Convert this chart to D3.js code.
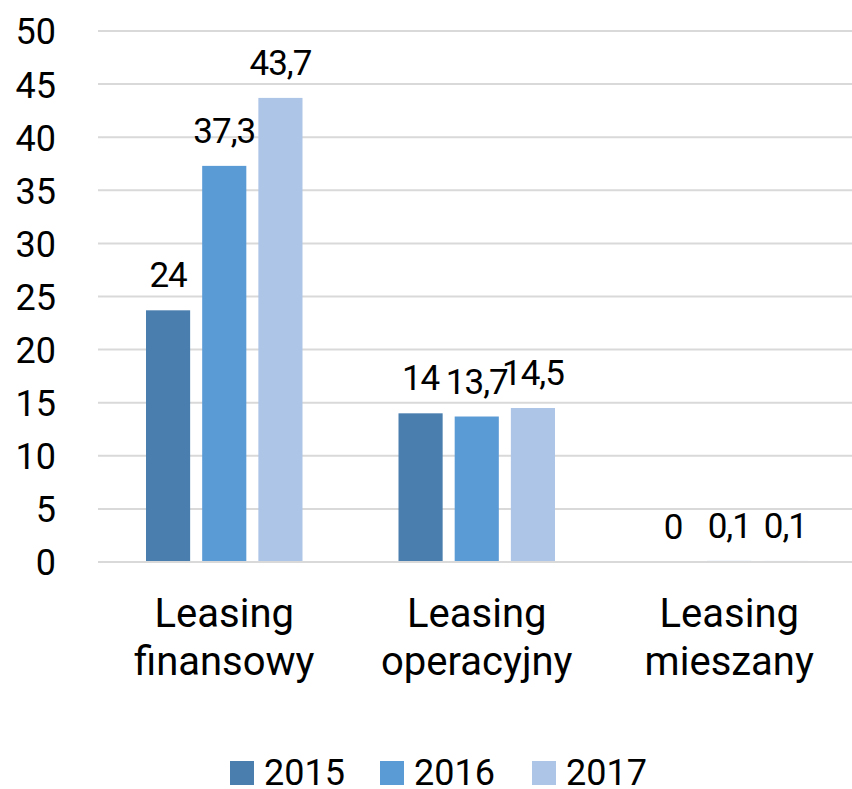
<!DOCTYPE html>
<html>
<head>
<meta charset="utf-8">
<script src="https://cdn.jsdelivr.net/npm/d3@7"></script>
<style>
  body { margin: 0; background: #fff; }
  text { font-family: Roboto, "Noto Sans", sans-serif; fill: #000; }
</style>
</head>
<body>
<div id="chart"></div>
<script>
// data
var categories = [['Leasing', 'finansowy'], ['Leasing', 'operacyjny'], ['Leasing', 'mieszany']];
var years = ['2015', '2016', '2017'];
var values2015 = [23.7, 14, 0];
var values2016 = [37.3, 13.7, 0.1];
var values2017 = [43.7, 14.5, 0.1];
var labels2015 = ['24', '14', '0'];
var labels2016 = ['37,3', '13,7', '0,1'];
var labels2017 = ['43,7', '14,5', '0,1'];
var yTicks = [0, 5, 10, 15, 20, 25, 30, 35, 40, 45, 50];

var colors = ['#4a7eaf', '#5b9bd5', '#adc5e6'];
var seriesValues = [values2015, values2016, values2017];
var seriesLabels = [labels2015, labels2016, labels2017];

var width = 852, height = 789;
var margin = { top: 31, left: 98, right: -3.5, bottom: 227 };
var fontSize = 36;
var catFontSize = 40;

var svg = d3.select('#chart')
    .append('svg')
    .attr('width', width)
    .attr('height', height);

var x0 = d3.scaleBand()
    .domain(d3.range(categories.length))
    .range([margin.left, width - margin.right])
    .paddingInner(0)
    .paddingOuter(0);

var x1 = d3.scaleBand()
    .domain(d3.range(years.length))
    .range([48, x0.bandwidth() - 48])
    .paddingInner(12 / 56)
    .paddingOuter(0);

var y = d3.scaleLinear()
    .domain([0, 50])
    .range([height - margin.bottom, margin.top]);

// gridlines (zero line is drawn later, over the bars)
svg.append('g')
    .selectAll('line')
    .data(yTicks.filter(function(d) { return d > 0; }))
    .enter()
    .append('line')
    .attr('x1', margin.left)
    .attr('x2', width)
    .attr('y1', function(d) { return y(d); })
    .attr('y2', function(d) { return y(d); })
    .attr('stroke', '#d9d9d9')
    .attr('stroke-width', 2);

// y axis labels
var yAxis = d3.axisLeft(y)
    .tickValues(yTicks)
    .tickSize(0)
    .tickPadding(0);

var yg = svg.append('g')
    .attr('transform', 'translate(56,0)')
    .call(yAxis);
yg.select('.domain').remove();
yg.selectAll('text')
    .attr('font-size', fontSize)
    .attr('dy', '0.36em')
    .style('font-family', 'Roboto, "Noto Sans", sans-serif')
    .attr('fill', '#000');

// bars
var groups = svg.append('g')
    .selectAll('g')
    .data(categories)
    .enter()
    .append('g')
    .attr('transform', function(d, i) { return 'translate(' + x0(i) + ',0)'; });

groups.each(function(cat, ci) {
    var g = d3.select(this);
    years.forEach(function(yr, si) {
        var v = seriesValues[si][ci];
        g.append('rect')
            .attr('x', x1(si))
            .attr('width', x1.bandwidth())
            .attr('y', y(v))
            .attr('height', y(0) - y(v))
            .attr('fill', colors[si]);
        g.append('text')
            .attr('x', x1(si) + x1.bandwidth() / 2)
            .attr('y', y(v) - 23)
            .attr('text-anchor', 'middle')
            .attr('font-size', 35)
            .attr('letter-spacing', -1)
            .text(seriesLabels[si][ci]);
    });
});

// category axis line
svg.append('line')
    .attr('x1', margin.left)
    .attr('x2', width)
    .attr('y1', y(0))
    .attr('y2', y(0))
    .attr('stroke', '#d9d9d9')
    .attr('stroke-width', 2);

// category labels
var catText = svg.append('g')
    .selectAll('text')
    .data(categories)
    .enter()
    .append('text')
    .attr('text-anchor', 'middle')
    .attr('font-size', catFontSize)
    .attr('x', function(d, i) { return x0(i) + x0.bandwidth() / 2; })
    .attr('y', 627);

catText.selectAll('tspan')
    .data(function(d) { return d; })
    .enter()
    .append('tspan')
    .attr('x', function() { return d3.select(this.parentNode).attr('x'); })
    .attr('dy', function(d, i) { return i === 0 ? 0 : 48; })
    .text(function(d) { return d; });

// legend
var legendX = [230, 380, 532];
var legend = svg.append('g')
    .selectAll('g')
    .data(years)
    .enter()
    .append('g')
    .attr('transform', function(d, i) { return 'translate(' + legendX[i] + ',761)'; });

legend.append('rect')
    .attr('width', 24)
    .attr('height', 24)
    .attr('fill', function(d, i) { return colors[i]; });

legend.append('text')
    .attr('x', 34)
    .attr('y', 24)
    .attr('font-size', fontSize)
    .text(function(d) { return d; });
</script>
</body>
</html>
